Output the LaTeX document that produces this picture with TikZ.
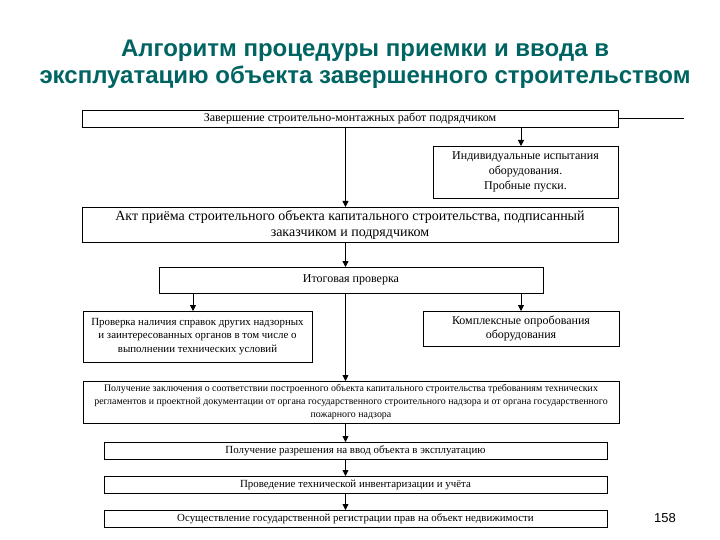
\documentclass[tikz,border=0pt]{standalone}
\usepackage{fontspec}
\setmainfont{Liberation Serif}
\newfontfamily\titlefont{Liberation Sans}
\usetikzlibrary{calc}
\usetikzlibrary{positioning}
\usetikzlibrary{arrows.meta}
\definecolor{titlegreen}{RGB}{0,100,98}

\begin{document}
\begin{tikzpicture}
[
x=1pt, y=-1pt,
% 文字と枠の間隔
every node/.style={inner sep=0, outer sep=0},
% 矢印の設定
arrow/.style={-{Triangle[length=6pt, width=6pt]}, line width=0.8pt},
% ブロック
block/.style={rectangle, draw, line width=0.9pt, align=center},
% 幅の広いブロック
wide/.style={block, minimum width=536pt},
% 下の三つのブロック
low/.style={block, minimum width=503pt, minimum height=17pt,
font=\fontsize{10.9}{12}\selectfont}
]
\useasboundingbox (0,0) rectangle (720,540);

% 見出し
\node [font=\titlefont\bfseries\fontsize{24}{27}\selectfont, text=titlegreen,
align=center] (title) at (365,64)
{Алгоритм процедуры приемки и ввода в\\эксплуатацию объекта завершенного строительством};
\node [font=\titlefont\fontsize{13}{13}\selectfont] (page) at (665,518) {158};

% ブロックの配置
\node [wide, minimum height=17pt, font=\fontsize{12}{12}\selectfont] (zav) at (350,118.5)
{Завершение строительно-монтажных работ подрядчиком};
\node [block, minimum width=185pt, minimum height=52pt, font=\fontsize{12}{15}\selectfont]
(ind) at (525.5,172) {Индивидуальные испытания\\оборудования.\\Пробные пуски.};
\node [wide, minimum height=35pt, font=\fontsize{14}{16}\selectfont] (akt) at (350,224.5)
{Акт приёма строительного объекта капитального строительства, подписанный\\заказчиком и подрядчиком};
\node [block, minimum width=384pt, minimum height=26pt, font=\fontsize{12}{12}\selectfont]
(itog) at (351,280) {Итоговая проверка};
\node [block, minimum width=229pt, minimum height=51pt, font=\fontsize{10.9}{13.5}\selectfont]
(sprav) at (197.5,336.5) {Проверка наличия справок других надзорных\\и заинтересованных органов в том числе о\\выполнении технических условий};
\node [block, minimum width=196pt, minimum height=35pt, font=\fontsize{12}{14}\selectfont]
(kompl) at (521,328.5) {Комплексные опробования\\оборудования};
\node [wide, minimum height=42pt, font=\fontsize{9.9}{13}\selectfont] (zakl) at (351,402)
{Получение заключения о соответствии построенного объекта капитального строительства требованиям технических\\регламентов и проектной документации от органа государственного строительного надзора и от органа государственного\\пожарного надзора};
\node [low] (razr) at (355.5,450.5) {Получение разрешения на ввод объекта в эксплуатацию};
\node [low, below=17pt of razr] (inv) {Проведение технической инвентаризации и учёта};
\node [low, below=17pt of inv] (reg) {Осуществление государственной регистрации прав на объект недвижимости};

% 矢印の通る位置
\coordinate (mid) at (345.5,0);
\coordinate (lft) at (193,0);
\coordinate (rgt) at (521,0);
\coordinate (tail) at (684,118.5);

% ブロックの接続
\draw [line width=0.8pt] (zav.east) -- (tail);
\draw [arrow] (zav.south -| mid) -- (akt.north -| mid);
\draw [arrow] (zav.south -| rgt) -- (ind.north -| rgt);
\draw [arrow] (akt.south -| mid) -- (itog.north -| mid);
\draw [arrow] (itog.south -| lft) -- (sprav.north -| lft);
\draw [arrow] (itog.south -| rgt) -- (kompl.north -| rgt);
\draw [arrow] (itog.south -| mid) -- (zakl.north -| mid);
\draw [arrow] (zakl.south -| mid) -- (razr.north -| mid);
\draw [arrow] (razr.south -| mid) -- (inv.north -| mid);
\draw [arrow] (inv.south -| mid) -- (reg.north -| mid);
\end{tikzpicture}
\end{document}
